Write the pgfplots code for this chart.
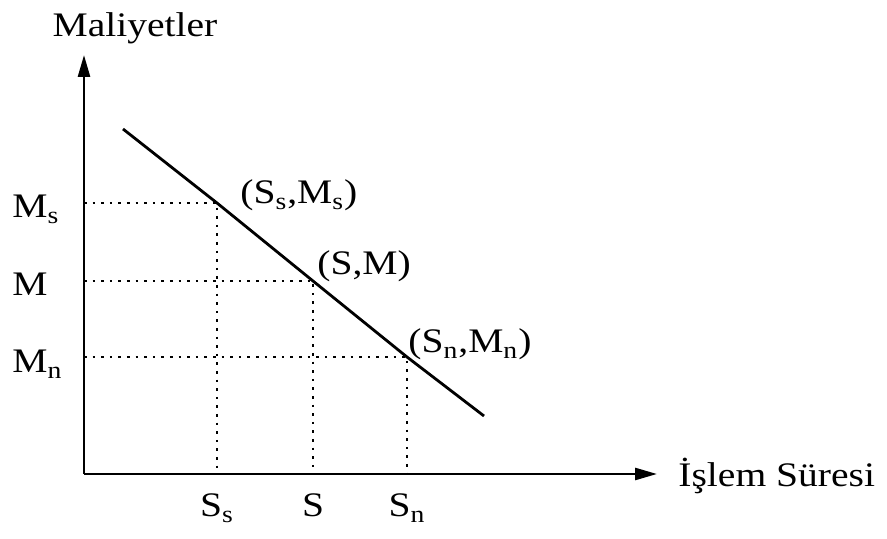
\documentclass[border=0pt]{standalone}
\usepackage{fontspec}
\setmainfont{Liberation Serif}[FakeStretch=1.15]
\usepackage{pgfplots}
\pgfplotsset{compat=1.18}
\usetikzlibrary{arrows.meta}
\newcommand\lbl{\fontsize{17.2}{20}\selectfont}
\begin{document}
\begin{tikzpicture}
\begin{axis}[
  x=0.5pt, y=0.5pt,
  xmin=84, xmax=657, ymin=65, ymax=484,
  axis lines=left,
  clip=false,
  axis line style={line width=1.3pt},
  x axis line style={-{Triangle[length=11pt,width=6pt]}},
  y axis line style={-{Triangle[length=11pt,width=6pt]}},
  major tick length=0pt,
  xtick={217,313,407},
  xticklabels={S\textsubscript{s}\hspace{19pt}, S, S\textsubscript{n}},
  ytick={181,258,336},
  yticklabels={M\textsubscript{n}, M, M\textsubscript{s}},
  xticklabel style={font=\lbl, anchor=base, inner sep=0pt, yshift=-21.5pt},
  yticklabel style={font=\lbl, anchor=base west, inner sep=0pt, xshift=-36pt, yshift=-7.5pt},
]
% canvas extent
\path (axis cs:0,0) rectangle (axis cs:887,539);

% guide lines to both axes
\addplot[black, line width=0.9pt, dash pattern=on 1.3pt off 3pt] coordinates {(84,336) (217,336) (217,65)};
\addplot[black, line width=0.9pt, dash pattern=on 1.3pt off 3pt] coordinates {(84,258) (313,258) (313,65)};
\addplot[black, line width=0.9pt, dash pattern=on 1.3pt off 3pt] coordinates {(84,182) (407,182) (407,65)};

% cost line
\addplot[black, line width=1.4pt] coordinates {(123,410) (217,336) (313,258) (407,182) (484,123)};

\node[font=\lbl, anchor=base] at (axis cs:135,502) {Maliyetler};
\node[font=\lbl, anchor=base west, inner sep=0pt] at (axis cs:678,52) {İşlem Süresi};
\node[font=\lbl, anchor=base west, inner sep=0pt] at (axis cs:240,335) {(S\textsubscript{s},M\textsubscript{s})};
\node[font=\lbl, anchor=base west, inner sep=0pt] at (axis cs:317,264) {(S,M)};
\node[font=\lbl, anchor=base west, inner sep=0pt] at (axis cs:408,186) {(S\textsubscript{n},M\textsubscript{n})};
\end{axis}
\end{tikzpicture}
\end{document}
